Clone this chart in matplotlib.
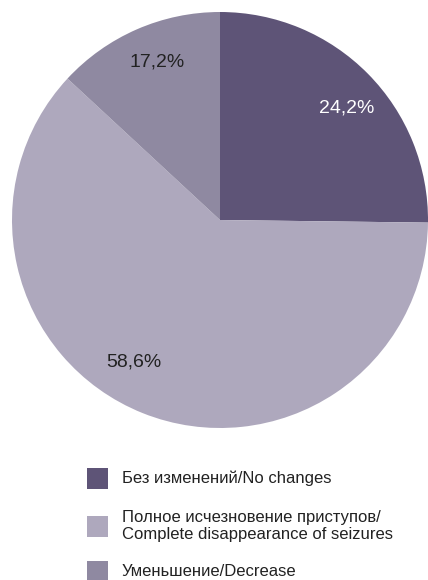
import numpy as np
import matplotlib
matplotlib.use('Agg')
import matplotlib.pyplot as plt
from matplotlib.patches import Rectangle

# data
labels = ['Без изменений/No changes',
          'Полное исчезновение приступов/\nComplete disappearance of seizures',
          'Уменьшение/Decrease']
values = [24.2, 58.6, 17.2]          # printed percentages
drawn_shares = [25.2, 61.7, 13.1]    # slice sizes as drawn in the source picture
colors = ['#5e5477', '#aea8bd', '#8f89a1']
pct_colors = ['white', '#222222', '#222222']
# label placement (angle offset in degrees from slice middle, radius fraction)
pct_shift = [-3.2, -9.4, -1.9]
pct_radius = [0.81, 0.80, 0.82]

W, H = 428, 580
fig = plt.figure(figsize=(W / 100, H / 100), dpi=100)

cx, cy, r = 220, 220, 208
ax = fig.add_axes([(cx - r) / W, (H - cy - r) / H, 2 * r / W, 2 * r / H])
wedges, _ = ax.pie(drawn_shares, colors=colors, startangle=90, counterclock=False,
                   radius=1.0, wedgeprops=dict(linewidth=0))
ax.set_xlim(-1, 1)
ax.set_ylim(-1, 1)
ax.set_aspect('equal')
ax.axis('off')

for w, v, c, sh, rf in zip(wedges, values, pct_colors, pct_shift, pct_radius):
    mid = np.deg2rad((w.theta1 + w.theta2) / 2 + sh)
    ax.text(rf * np.cos(mid), rf * np.sin(mid), f'{v:.1f}%'.replace('.', ','),
            ha='center', va='center', fontsize=14, color=c,
            family=['Liberation Sans', 'DejaVu Sans'])

# legend drawn in figure pixels
row_centers = [478, 526, 571]
for yc, lab, col in zip(row_centers, labels, colors):
    fig.patches.append(Rectangle((87 / W, (H - yc - 10.5) / H), 21 / W, 21 / H,
                                 transform=fig.transFigure, facecolor=col,
                                 edgecolor='none'))
    fig.text(122 / W, (H - yc) / H, lab, ha='left', va='center', fontsize=12,
             color='#222222', linespacing=1.15,
             family=['Liberation Sans', 'DejaVu Sans'])

fig.savefig('out.png', dpi=100)
